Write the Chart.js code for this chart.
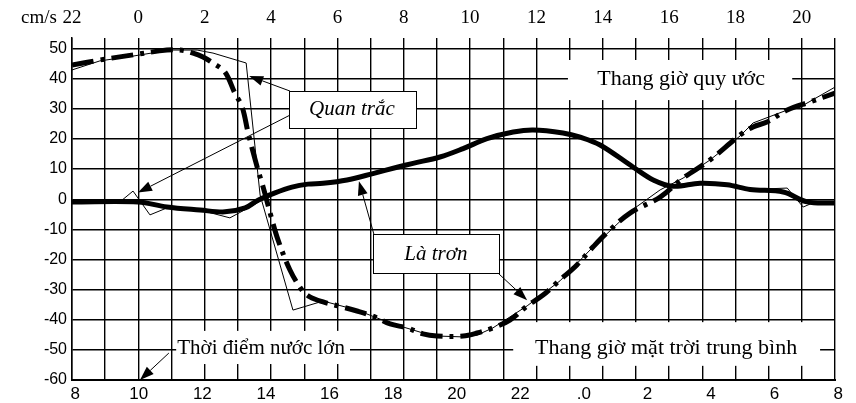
<!DOCTYPE html>
<html>
<head>
<meta charset="utf-8">
<script src="https://cdn.jsdelivr.net/npm/chart.js@4.4.1/dist/chart.umd.min.js"></script>
<style>
  html, body { margin: 0; padding: 0; background: #fff; }
  #wrap { width: 856px; height: 403px; }
</style>
</head>
<body>
<div id="wrap"><canvas id="chart" width="856" height="403"></canvas></div>
<script>
// x = hour on the "Thang giờ quy ước" scale (22h .. 21h next day, top axis), y = cm/s

// big curve, smoothed (thick dash-dot)
const smoothAx = [22.00, 22.84, 23.84, 24.86, 25.26, 25.65, 25.95, 26.25, 26.61, 26.91, 27.13, 27.31, 27.58, 27.76, 28.03, 28.21, 28.57, 28.93, 29.17, 29.57, 30.02, 30.59, 31.07, 31.59, 32.10, 32.58, 33.00, 33.79, 34.21, 34.69, 35.20, 35.72, 36.20, 36.71, 37.22, 37.71, 38.13, 38.82, 39.73, 40.42, 41.23, 42.14, 42.53, 42.95, 43.56, 44.25, 45.00];
const smoothAy = [44.5, 46.2, 47.9, 49.5, 49.5, 48.5, 47.2, 45.2, 42.2, 35.2, 30.6, 22.0, 10.7, 4.1, -6.9, -13.5, -23.5, -30.1, -32.4, -34.1, -35.4, -37.1, -38.8, -41.4, -42.7, -44.7, -45.4, -45.4, -44.4, -42.7, -40.1, -35.4, -31.8, -26.8, -21.8, -15.8, -11.1, -4.6, 0.7, 7.0, 13.0, 21.3, 24.0, 25.6, 29.6, 32.3, 35.2];

// big curve, observed (thin)
const obsAx = [22.00, 22.84, 23.84, 24.95, 25.77, 26.25, 27.25, 27.67, 28.66, 29.57, 30.59, 31.59, 32.58, 33.00, 33.79, 34.21, 34.69, 35.72, 36.71, 37.71, 38.88, 39.73, 40.42, 41.23, 42.14, 42.53, 43.56, 43.95, 45.00];
const obsAy = [42.9, 45.9, 47.5, 49.5, 49.5, 48.5, 45.2, 1.4, -36.8, -33.8, -36.8, -41.1, -44.4, -45.4, -45.7, -45.1, -42.7, -35.4, -27.1, -15.8, -3.6, 3.1, 7.0, 13.0, 21.0, 25.3, 29.6, 30.6, 37.2];

// small curve, smoothed (thick solid)
const smoothBx = [22.00, 23.99, 24.86, 25.86, 26.61, 27.22, 27.61, 28.12, 28.63, 29.11, 29.57, 30.29, 31.07, 31.80, 32.28, 33.09, 33.79, 34.51, 35.30, 35.90, 36.80, 37.32, 37.92, 38.91, 39.52, 40.12, 40.93, 41.75, 42.44, 43.44, 44.16, 45.00];
const smoothBy = [-0.9, -0.9, -2.6, -3.6, -4.2, -2.9, -0.3, 2.1, 4.0, 5.0, 5.3, 6.4, 8.5, 10.6, 11.9, 14.0, 16.8, 20.1, 22.3, 23.0, 22.0, 20.6, 18.0, 10.7, 6.4, 4.3, 5.3, 4.8, 3.2, 2.4, -0.9, -1.3];

// small curve, observed (thin)
const obsBx = [22.00, 23.51, 23.84, 24.35, 24.86, 25.86, 26.76, 27.58, 28.12, 28.63, 29.11, 29.57, 30.29, 31.07, 31.80, 32.28, 33.09, 33.79, 34.51, 35.30, 35.90, 36.80, 37.32, 37.92, 38.91, 39.52, 40.12, 40.93, 41.75, 42.44, 43.56, 44.04, 44.40, 45.00];
const obsBy = [-0.9, -0.3, 2.7, -5.2, -2.9, -3.6, -6.2, -1.3, 2.1, 4.0, 5.0, 5.3, 6.4, 8.5, 10.6, 11.9, 14.0, 16.8, 20.1, 22.3, 23.0, 22.0, 20.6, 18.0, 10.7, 5.8, 4.3, 5.3, 4.8, 3.2, 3.7, -2.6, -0.9, -0.9];

const topTicks = [22, 23, 24, 25, 26, 27, 28, 29, 30, 31, 32, 33, 34, 35, 36, 37, 38, 39, 40, 41, 42, 43, 44, 45];
const bottomTicks = [8, 10, 12, 14, 16, 18, 20, 22, 24, 26, 28, 30, 32];
const bottomLabels = ['8', '10', '12', '14', '16', '18', '20', '22', '.0', '2', '4', '6', '8'];
const yTicks = [-60, -50, -40, -30, -20, -10, 0, 10, 20, 30, 40, 50];

// text boxes and arrows, placed in chart units (hour, cm/s)
const notes = [
  { text: 'Thang giờ quy ước', box: [36.95, 46.2, 43.71, 32.9], at: [40.36, 39.9], size: 22, italic: false, frame: false },
  { text: 'Thang giờ mặt trời trung bình', box: [35.30, -40.8, 44.55, -55.3], at: [39.91, -49.3], size: 22, italic: false, frame: false },
  { text: 'Thời điểm nước lớn', box: [25.14, -43.7, 30.38, -54.7], at: [27.70, -49.7], size: 21, italic: false, frame: false },
  { text: 'Quan trắc', box: [28.54, 35.9, 32.37, 23.6], at: [30.44, 29.9], size: 21, italic: true, frame: true },
  { text: 'Là trơn', box: [31.07, -11.6, 34.87, -24.5], at: [32.97, -18.2], size: 21, italic: true, frame: true }
];
const arrows = [
  [28.57, 35.9, 27.34, 40.9],
  [28.57, 27.9, 23.99, 2.2],
  [31.10, -11.6, 30.65, 6.0],
  [34.84, -24.5, 35.72, -33.5],
  [24.92, -51.05, 24.05, -60]
];

function zip(xs, ys) {
  return xs.map((x, i) => ({ x: x, y: ys[i] }));
}

const serif = '"Liberation Serif", "DejaVu Serif", serif';
const sans = '"Liberation Sans", Arial, sans-serif';

const notesPlugin = {
  id: 'notes',
  beforeDatasetsDraw(chart) {
    const ctx = chart.ctx;
    const sx = chart.scales.x, sy = chart.scales.y;
    ctx.save();
    notes.forEach(n => {
      const x1 = sx.getPixelForValue(n.box[0]), y1 = sy.getPixelForValue(n.box[1]);
      const x2 = sx.getPixelForValue(n.box[2]), y2 = sy.getPixelForValue(n.box[3]);
      ctx.fillStyle = '#fff';
      ctx.fillRect(x1, y1, x2 - x1, y2 - y1);
      if (n.frame) {
        ctx.strokeStyle = '#000';
        ctx.lineWidth = 1;
        ctx.strokeRect(Math.round(x1) + 0.5, Math.round(y1) + 0.5, Math.round(x2 - x1), Math.round(y2 - y1));
      }
    });
    ctx.restore();
  },
  afterDatasetsDraw(chart) {
    const ctx = chart.ctx;
    const sx = chart.scales.x, sy = chart.scales.y;
    ctx.save();
    ctx.fillStyle = '#000';
    ctx.textAlign = 'center';
    ctx.textBaseline = 'middle';
    notes.forEach(n => {
      ctx.font = (n.italic ? 'italic ' : '') + n.size + 'px ' + serif;
      ctx.fillText(n.text, sx.getPixelForValue(n.at[0]), sy.getPixelForValue(n.at[1]));
    });
    ctx.strokeStyle = '#000';
    ctx.lineWidth = 1;
    arrows.forEach(a => {
      const x1 = sx.getPixelForValue(a[0]), y1 = sy.getPixelForValue(a[1]);
      const x2 = sx.getPixelForValue(a[2]), y2 = sy.getPixelForValue(a[3]);
      const ang = Math.atan2(y2 - y1, x2 - x1);
      const len = 14, half = 5;
      const bx = x2 - len * Math.cos(ang), by = y2 - len * Math.sin(ang);
      ctx.beginPath();
      ctx.moveTo(x1, y1);
      ctx.lineTo(bx, by);
      ctx.stroke();
      ctx.beginPath();
      ctx.moveTo(x2, y2);
      ctx.lineTo(bx + half * Math.sin(ang), by - half * Math.cos(ang));
      ctx.lineTo(bx - half * Math.sin(ang), by + half * Math.cos(ang));
      ctx.closePath();
      ctx.fill();
    });
    // unit label
    ctx.font = '19px ' + serif;
    ctx.textAlign = 'left';
    ctx.fillText('cm/s', 21, 18);
    ctx.restore();
  }
};

const chart = new Chart(document.getElementById('chart'), {
  type: 'line',
  data: {
    datasets: [
      { data: zip(obsAx, obsAy), borderColor: '#000', borderWidth: 1, tension: 0 },
      { data: zip(obsBx, obsBy), borderColor: '#000', borderWidth: 1, tension: 0 },
      { data: zip(smoothAx, smoothAy), borderColor: '#000', borderWidth: 5, borderDash: [22, 7, 4, 7], borderCapStyle: 'butt', tension: 0.35 },
      { data: zip(smoothBx, smoothBy), borderColor: '#000', borderWidth: 5, tension: 0.35 }
    ]
  },
  options: {
    responsive: false,
    animation: false,
    layout: { padding: { left: 0, right: 21, top: 0, bottom: 0 } },
    elements: { point: { radius: 0 } },
    plugins: { legend: { display: false }, tooltip: { enabled: false } },
    scales: {
      x: {
        type: 'linear',
        position: 'top',
        min: 22,
        max: 45,
        afterBuildTicks: s => { s.ticks = topTicks.map(v => ({ value: v })); },
        afterFit: s => { s.height = 38; },
        ticks: {
          autoSkip: false,
          maxRotation: 0,
          padding: 9,
          color: '#000',
          font: { family: serif, size: 19 },
          callback: v => (v % 2 === 0 ? String(v % 24) : '')
        },
        grid: { color: '#000', lineWidth: 1.4, drawTicks: false },
        border: { display: false }
      },
      x2: {
        type: 'linear',
        position: 'bottom',
        min: 7.9,
        max: 31.9,
        afterBuildTicks: s => { s.ticks = bottomTicks.map(v => ({ value: v })); },
        afterFit: s => { s.height = 23; },
        ticks: {
          autoSkip: false,
          maxRotation: 0,
          padding: 4,
          color: '#000',
          font: { family: sans, size: 17 },
          callback: (v, i) => bottomLabels[i]
        },
        grid: { display: false, drawTicks: false },
        border: { display: true, color: '#000', width: 2 }
      },
      y: {
        min: -60,
        max: 53.5,
        afterBuildTicks: s => { s.ticks = yTicks.map(v => ({ value: v })); },
        afterFit: s => { s.width = 72; },
        ticks: {
          padding: 5,
          color: '#000',
          font: { family: sans, size: 16 }
        },
        grid: { color: '#000', lineWidth: 1.4, drawTicks: false },
        border: { display: true, color: '#000', width: 1.5 }
      }
    }
  },
  plugins: [notesPlugin]
});
</script>
</body>
</html>
